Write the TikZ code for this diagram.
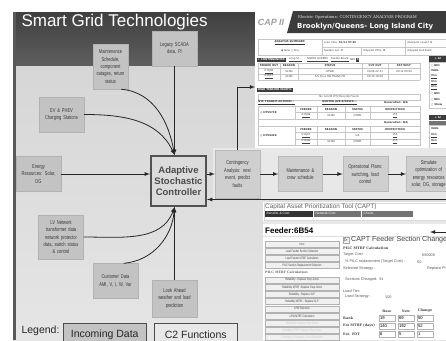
\documentclass[tikz,border=0pt]{standalone}
\usepackage{fontspec}
\setmainfont{Liberation Sans}
\newfontfamily\narrowfont[FakeStretch=0.72]{Liberation Sans}
\newfontfamily\scrfont{DejaVu Sans}
\newfontfamily\scrserif{DejaVu Serif}
\usepackage{tikz}
\usetikzlibrary{arrows,positioning}
\definecolor{ingray}{HTML}{C3C3C3}
\definecolor{fungray}{HTML}{CFCFCF}
\definecolor{txtgray}{HTML}{383838}
\definecolor{scrdark}{HTML}{3C3C3C}
\newcommand{\scr}{\scrfont\fontsize{2.6}{3}\selectfont}
\newcommand{\scrb}{\scrfont\bfseries\fontsize{2.6}{3}\selectfont}
\newcommand{\boxfont}{\narrowfont\fontsize{5.6}{7.4}\selectfont}

\begin{document}
\begin{tikzpicture}[x=1pt,y=-1pt,>=latex,
  indata/.style={rectangle,draw=gray!60,fill=ingray,text width=42pt,align=center,
    minimum width=45pt,minimum height=35pt,inner sep=1pt,font=\boxfont,text=txtgray},
  cfunc/.style={indata,fill=fungray,draw=gray!55},
  conn/.style={->,line width=0.8pt,black!85},
  sline/.style={draw=gray!45,line width=0.3pt},
  stxt/.style={inner sep=0pt,font=\scr,text=black!75},
  shdr/.style={inner sep=0pt,font=\scrb,text=black!80},
  sdark/.style={fill=scrdark,text=white,font=\scrb,inner sep=0.7pt,anchor=west},
  btn/.style={draw=gray!60,fill=gray!12,minimum width=74pt,minimum height=6pt,inner sep=0pt,
    font=\narrowfont\fontsize{3.3}{3.6}\selectfont,text=black!75},
  btnoff/.style={btn,text=gray!45},
  menulbl/.style={anchor=west,xshift=-37pt,inner sep=0pt,font=\scrserif\bfseries\fontsize{3.2}{3.6}\selectfont,text=black!60},
  plbl/.style={anchor=west,inner sep=0pt,font=\fontsize{3.8}{4.5}\selectfont,text=black!65},
  pbold/.style={anchor=west,inner sep=0pt,font=\scrserif\bfseries\fontsize{3.4}{4}\selectfont,text=black!75},
  fbox/.style={draw=gray!60,minimum width=16pt,minimum height=6.5pt,inner sep=0.5pt,text width=14pt,
    align=left,font=\fontsize{4.2}{4.5}\selectfont},
  legbox/.style={draw=black!70,minimum width=83pt,minimum height=24pt,anchor=north west,
    font=\fontsize{10.5}{12}\selectfont,text=black!85}]
\clip (0,0) rectangle (446,340);
\fill[white] (0,0) rectangle (446,340);
\shade[top color=black!16,bottom color=black!10] (13,65) rectangle (446,340);
\shade[top color=black!75,bottom color=black!63] (13,12) rectangle (446,65);
\fill[black!65] (13,12) rectangle (15.5,340);
\node (title) [anchor=west,text=white,font=\fontsize{17}{20}\selectfont] at (18,22) {Smart Grid Technologies};

\fill[white] (255,10) rectangle (446,148);
\fill[scrdark] (287,33) -- (293,11) -- (446,11) -- (446,33) -- cycle;
\node (caplogo) [font=\bfseries\itshape\fontsize{9}{9}\selectfont,text=gray!75] at (271,22) {CAP II};
\node (capsub) [anchor=west,inner sep=0pt,text=white!85!gray,font=\scrserif\fontsize{3.9}{4}\selectfont] at (298,17) {Electric Operations: CONTINGENCY ANALYSIS PROGRAM};
\node (capcity) [anchor=west,inner sep=0pt,text=white,font=\scrfont\bfseries\fontsize{7}{8}\selectfont] at (297,27) {Brooklyn/Queens- Long Island City};
\draw[sline] (258,39) rectangle (446,55) (322,39) -- (322,55) (405,39) -- (405,55) (322,47) -- (446,47) (361,47) -- (361,55);
\node (sum) [shdr] at (290,43) {\underline{ANALYSIS SUMMARY:}};
\node (nowproj) [stxt] at (290,51) {◉ Now ○ Proj};
\node (scan) [stxt,anchor=west] at (324,43) {scan time: \textbf{01/11 07:36}};
\node (fout) [stxt,anchor=west] at (324,51) {feeders out: \textbf{2}};
\node (dhtv) [stxt,anchor=west] at (363,51) {dropped HTVs: \textbf{0}};
\node (divc) [stxt,anchor=west] at (407,43) {divergent cases? N};
\node (dmb) [stxt,anchor=west] at (407,51) {dropped multibank};
\node (contlbl) [sdark] at (257,60) {+ CONTINGENCIES};
\node (lisl) [stxt,anchor=west] at (289,60) {\underline{Long Isl...}};
\node (nq) [stxt,anchor=west] at (307,60) {\underline{NORTH QUEENS}};
\node (fb) [stxt,anchor=west] at (331,60) {\underline{Feeder Board}};
\node (nri) [stxt,anchor=west] at (350,60) {NRI:};
\node (nrin) [sdark] at (356,60) {0};
\foreach \y in {63,68.5,74,80} \draw[sline] (258,\y) -- (420,\y);
\foreach \x in {258,280,298,362,388,420} \draw[sline] (\x,63) -- (\x,80);
\foreach \t/\x [count=\i] in {FEEDER OUT/269,REASON/289,STATUS/330,CUT OUT/375,EST REST/404}
  \node (th\i) [shdr] at (\x,65.8) {\t};
\foreach \t/\x [count=\i] in {\underline{01Q08}/269,SCHD/289,OTWR/330,{01/06 22:31}/375,{01/12 00:00}/404}
  \node (ta\i) [stxt] at (\x,71.3) {\t};
\foreach \t/\x [count=\i] in {\underline{01Q17}/269,SCHD/289,{S/S Cnxs SW TRANS FD}/330,{01/10 18:58}/375}
  \node (tb\i) [stxt] at (\x,77) {\t};
\node (htvl) [sdark] at (257,90) {HIGH TENSION VAULTS:};
\draw[sline] (258,94) rectangle (420,100);
\node (nohtv) [stxt] at (339,97) {No non-TA HTV Records Found};
\node (nyct) [shdr,anchor=west] at (258,103) {\underline{NYC TRANSIT AUTHORI...}};
\node (hunt) [shdr,anchor=west] at (322,103) {\underline{HUNTER AVE B/RESCE...}};
\node (gen1) [shdr,anchor=west] at (384,103) {Generation: N/A};
\draw[sline] (258,106) rectangle (420,119) (295,106) -- (295,119) (317,106) -- (317,119) (345,106) -- (345,119) (370,106) -- (370,119) (295,112.5) -- (420,112.5);
\node (htv1) [shdr,anchor=west] at (260,113) {◎ HTV5738};
\foreach \t/\x [count=\i] in {FEEDER/306,REASON/331,STATUS/357.5,RESTRICTION/395}
  \node (ha\i) [shdr] at (\x,109.5) {\t};
\foreach \t/\x [count=\i] in {\underline{01Q08}/306,SCHD/331,OTWR/357.5,\underline{155}/395}
  \node (hb\i) [stxt] at (\x,116) {\t};
\draw[sline] (258,119) rectangle (420,126);
\node (gen2) [shdr,anchor=west] at (384,122.5) {Generation: N/A};
\draw[sline] (258,126) rectangle (420,145) (295,126) -- (295,145) (317,126) -- (317,145) (345,126) -- (345,145) (370,126) -- (370,145) (295,132.5) -- (420,132.5) (295,138.8) -- (420,138.8);
\node (htv2) [shdr,anchor=west] at (260,136) {◎ HTV9428};
\foreach \t/\x [count=\i] in {FEEDER/306,REASON/331,STATUS/357.5,RESTRICTION/395}
  \node (hc\i) [shdr] at (\x,129.5) {\t};
\foreach \t/\x [count=\i] in {\underline{01Q07}/306,{S/S}/357.5,\underline{155}/395}
  \node (hd\i) [stxt] at (\x,135.7) {\t};
\foreach \t/\x [count=\i] in {\underline{01Q08}/306,SCHD/331,OTWR/357.5,\underline{155}/395}
  \node (he\i) [stxt] at (\x,142) {\t};
\node (sbh1) [sdark,minimum width=17pt,minimum height=6pt] at (429,59) {+ Al};
\draw[sline] (429,62) rectangle (446,108);
\node (sbh2) [sdark,minimum width=17pt,minimum height=5pt] at (429,117.5) {+ Al};
\fill[black!55] (429,120.5) rectangle (446,125);
\draw[sline] (429,125) rectangle (446,148);
\foreach \t/\y [count=\i] in {○ BE1/65.5,VAUL/71,\underline{V11}/77,\underline{V11}/82.5,\underline{V11}/88,○ BE1/94,○ BE1/99.5,○ Show/105,VAUL/129,\underline{V11}/136,\underline{V11}/142}
  \node (sr\i) [shdr,anchor=west] at (431,\y) {\t};

\fill[white] (263,202) rectangle (446,340);
\draw[gray!30] (264,203) rectangle (446,220);
\node (capt) [anchor=west,inner sep=0pt,text=gray!75!black,font=\fontsize{6.4}{7}\selectfont] at (265,206.5) {Capital Asset Prioritization Tool (CAPT)};
\foreach \t/\a/\b/\c [count=\i] in {Benefits \& Cost/265/313/black!80,Network Cost/314/361/black!55,Charts/362/413/black!55}
  {\fill[\c] (\a,211) rectangle (\b,216.5);
   \node (tab\i) [anchor=west,inner sep=0pt,text=white,font=\fontsize{3.3}{3.5}\selectfont] at (\a+1.5,213.8) {\t};}
\fill[gray!18] (263,221) rectangle (446,224);
\node (feeder) [anchor=west,inner sep=0pt,font=\bfseries\fontsize{8}{9}\selectfont] at (265,231) {Feeder:6B54};
\draw[gray!25] (263,236) -- (446,236);
\foreach \t/\s [count=\i] in {Intro/btn,Load Feeder Section Selection/btn,Load Feeder MTBF Calculation/btn,PILC Section Replacement Selection/btn,PILC MTBF Calculation/menulbl,Reliability - Replace Stop Joints/btn,Reliability MTBF -Replace Stop Joints/btn,Reliability - Replace XLP/btn,Reliability MTBF - Replace XLP/btn,LPW Selection/btn,LPW MTBF Calculation/btn,Reliability Replace Stop Joints/btnoff,Reliability MTBF Replace Stop Joints/btnoff,{Summary of changes, costs \& benefits}/btnoff}
  \node (mi\i) [\s] at (302,236.8+7.2*\i) {\t};
\node (icon) [draw=gray!70,fill=gray!10,minimum size=6pt,inner sep=0pt,font=\fontsize{4}{4}\selectfont] at (346,240) {$\triangleright$};
\node (cfsc) [anchor=west,inner sep=0pt,text=black!75,font=\fontsize{7.1}{8}\selectfont] at (351,240) {CAPT Feeder Section Change};
\node (pmc) [pbold] at (343,248) {PILC MTBF Calculation};
\node (tc) [plbl] at (343,255) {Target Cost:};
\node (tcv) [plbl] at (422,255) {650000};
\node (pr) [plbl] at (345,262) {\% PILC replacement (Target Cost) :};
\node (prv) [plbl] at (417,262) {50};
\node (ss) [plbl] at (343,269) {Selected Strategy :};
\node (ssv) [plbl] at (427,269) {Replace PI};
\node (sc) [plbl] at (345,279.5) {Sections Changed:};
\node (scv) [plbl] at (379,279.5) {34};
\node (lt) [plbl] at (343,291) {Load Tier:};
\node (ls) [plbl] at (345,297) {Load Strategy :};
\node (lsv) [plbl] at (385,297) {100};
\foreach \t/\x [count=\i] in {Base/387,New/406,Change/425}
  \node (col\i) [pbold,anchor=center] at (\x,311) {\t};
\foreach \t/\y/\a/\b/\c [count=\i] in {Rank/318/19/69/50,Est MTBF (days)/326/140/192/52,Est. FOT/334/6/5/1}
  {\node (rl\i) [pbold] at (343,\y) {\t};
   \node (ra\i) [fbox] at (387,\y) {\a};
   \node (rb\i) [fbox] at (406,\y) {\b};
   \node (rc\i) [fbox] at (425,\y) {\c};}

\fill[black!9] (213,148) rectangle (446,199);

\node (scada) [indata] at (174.5,48.5) {Legacy SCADA\\data, PI};

\node (mts) [indata,minimum width=35pt,minimum height=45pt,text width=33pt] at (110.5,66.5) {Maintenance\\Schedule,\\component\\outages, return\\status};

\node (ev) [indata] at (61.5,114.5) {EV \& PHEV\\Charging Stations};

\node (der) [indata] at (38.5,174) {Energy\\Resources: Solar,\\DG};

\node (lv) [indata,minimum height=44pt] at (61,237) {LV Network\\transformer data\\network protector\\data, switch status\\\& control};

\node (cust) [indata] at (115.5,281) {Customer Data\\AMI, V, I, W, Var};

\node (look) [indata,minimum height=37pt] at (174.5,298.5) {Look Ahead\\weather and load\\prediction};

\node (ctrl) [draw=black!68,line width=2.2pt,fill=black!14,minimum width=55pt,minimum height=50pt,align=center,
  font=\bfseries\fontsize{9.5}{11}\selectfont,text=black!70] at (178.5,181) {Adaptive\\Stochastic\\Controller};

\node (cont) [cfunc,minimum height=48pt] at (237.5,174) {Contingency\\Analysis: next\\event, predict\\faults};

\node (crew) [cfunc,right=18pt of cont,minimum width=44pt] {Maintenance \&\\crew schedule};

\node (ops) [cfunc,right=20pt of crew] {Operational Plans:\\switching, load\\control};

\node (sim) [cfunc,right=18pt of ops] {Simulate\\optimization of\\energy resources\\solar, DG, storage};

\node (leg) [anchor=west,font=\fontsize{10.5}{12}\selectfont,text=black!85] at (18,331) {Legend:};

\node (legin) [legbox,fill=ingray] at (63,323) {Incoming Data};

\node (legfn) [legbox,fill=black!9] at (154,323) {C2 Functions};

\coordinate (cin) at (ctrl.north -| scada.south);
\coordinate (cbot) at (ctrl.south -| look.north);
\coordinate (retin) at (446,199.5);
\coordinate (capin) at (255,87);
\coordinate (captsrc) at (446,232);
\coordinate (captin) at (430,232);

\draw [conn] (scada) -- (cin);
\draw [conn] (mts.-65) to[out=-5,in=100] (cin);
\draw [conn] (ev.east) to[out=0,in=115] (cin);
\draw [conn] (der.east) -- (der.east -| ctrl.west);
\draw [conn] (lv.east) to[out=0,in=250] (cbot);
\draw [conn] (cust.65) to[out=5,in=265] (cbot);
\draw [conn] (look) -- (cbot);
\draw [conn] (ctrl.east |- cont.west) -- (cont.west);
\draw [conn] (cont) -- (crew);
\draw [conn] (crew) -- (ops);
\draw [conn] (ops) -- (sim);
\draw [conn] (retin) -- (retin -| ctrl.east);
\draw [conn] (cont.north) |- (capin);
\draw [conn] (captsrc) -- (captin);

\end{tikzpicture}
\end{document}
